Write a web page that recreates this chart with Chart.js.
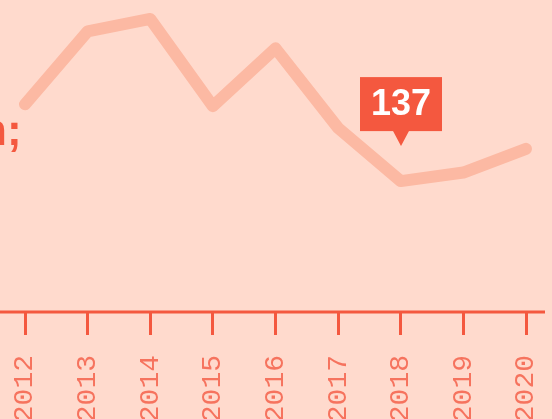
<!DOCTYPE html>
<html>
<head>
<meta charset="utf-8">
<script src="https://cdn.jsdelivr.net/npm/chart.js@4/dist/chart.umd.min.js"></script>
<style>
  html, body { margin: 0; padding: 0; background: #FFDACD; overflow: hidden; }
  #wrap { position: relative; width: 552px; height: 419px; overflow: hidden; }
  #c { position: absolute; left: 0; top: 0; }
  #title { position: absolute; left: -20px; top: 108px; font: bold 44px "Liberation Sans", Arial, sans-serif;
           line-height: 44px; color: #F4583F; white-space: nowrap; }
</style>
</head>
<body>
<div id="wrap">
  <canvas id="c" width="552" height="419"></canvas>
  <div id="title">n;</div>
</div>
<script>
const years = ['2012','2013','2014','2015','2016','2017','2018','2019','2020'];
const values = [218, 295, 308, 216, 277, 193, 137, 146, 171];
const highlightIndex = 6;
const yMin = 0;
const yMax = 328;

const RED = '#F4583F';
const LINE = '#FCB9A3';
const LABEL = '#F6735E';

const decor = {
  id: 'decor',
  afterDatasetsDraw(chart) {
    const ctx = chart.ctx;
    const x = chart.scales.x;
    ctx.save();
    ctx.strokeStyle = RED;
    ctx.lineWidth = 3;
    ctx.beginPath();
    ctx.moveTo(0, x.top + 1);
    ctx.lineTo(x.right + 19, x.top + 1);
    ctx.stroke();
    const pt = chart.getDatasetMeta(0).data[highlightIndex];
    const px = Math.round(pt.x), py = pt.y;
    const w = 82, h = 54;
    const tipY = py - 35;
    const boxBottom = tipY - 15;
    const boxTop = boxBottom - h;
    ctx.fillStyle = RED;
    ctx.fillRect(px - w / 2, boxTop, w, h);
    ctx.beginPath();
    ctx.moveTo(px - 8, boxBottom);
    ctx.lineTo(px + 8, boxBottom);
    ctx.lineTo(px, tipY);
    ctx.closePath();
    ctx.fill();
    ctx.fillStyle = '#FFFFFF';
    ctx.font = 'bold 36px "Liberation Sans", Arial, sans-serif';
    ctx.textAlign = 'center';
    ctx.textBaseline = 'middle';
    ctx.fillText(String(values[highlightIndex]), px, boxTop + h / 2 + 1);
    ctx.restore();
  }
};

new Chart(document.getElementById('c'), {
  type: 'line',
  data: {
    labels: years,
    datasets: [{
      data: values,
      borderColor: LINE,
      borderWidth: 12,
      borderCapStyle: 'round',
      borderJoinStyle: 'round',
      pointRadius: 0,
      tension: 0,
      fill: false,
      clip: false
    }]
  },
  options: {
    responsive: false,
    animation: false,
    layout: { padding: { left: 25, right: 26, top: 0, bottom: 0 } },
    plugins: { legend: { display: false }, tooltip: { enabled: false } },
    scales: {
      y: { display: false, min: yMin, max: yMax },
      x: {
        offset: false,
        border: { display: false },
        grid: {
          display: true,
          drawOnChartArea: false,
          drawTicks: true,
          tickLength: 24,
          tickColor: RED,
          tickWidth: 3
        },
        ticks: {
          color: LABEL,
          font: { family: '"Liberation Mono", "DejaVu Sans Mono", monospace', size: 28 },
          minRotation: 90,
          maxRotation: 90,
          padding: 20,
          autoSkip: false
        },
        afterFit(scale) { scale.height = 108; scale.paddingRight = 0; scale.paddingLeft = 0; }
      }
    }
  },
  plugins: [decor]
});
</script>
</body>
</html>
